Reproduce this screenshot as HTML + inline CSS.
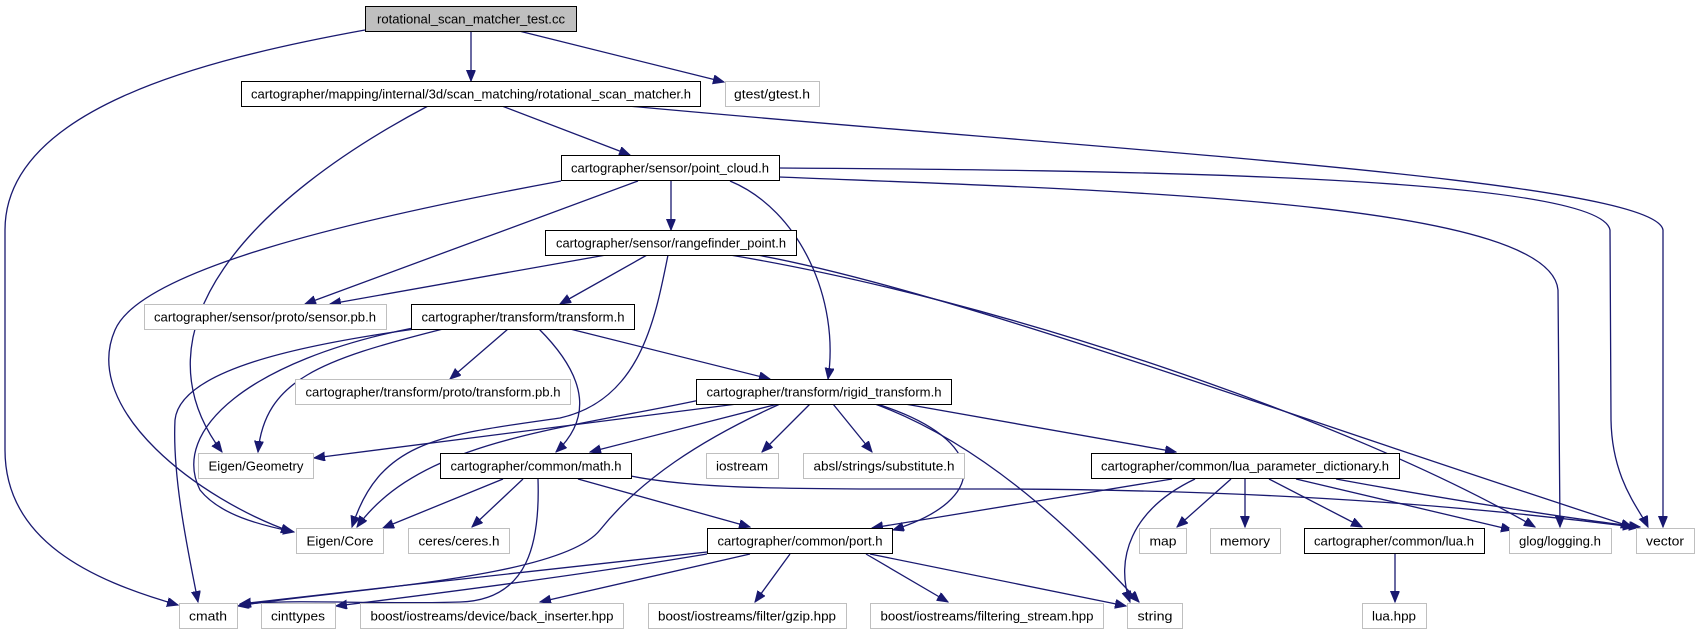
<!DOCTYPE html>
<html><head><meta charset="utf-8"><style>
html,body{margin:0;padding:0;background:#fff;}
svg{display:block;}
text{font-family:"Liberation Sans",sans-serif;font-size:13px;fill:#000;}
</style></head><body>
<svg width="1700" height="635" viewBox="0 0 1700 635" xmlns="http://www.w3.org/2000/svg">
<defs>
<marker id="a" markerUnits="userSpaceOnUse" markerWidth="12" markerHeight="10" refX="11" refY="4.5" orient="auto">
<path d="M0,0 L11,4.5 L0,9 z" fill="#191970" stroke="#191970"/>
</marker>
</defs>
<g fill="none" stroke="#191970" stroke-width="1.3" marker-end="url(#a)">
<path d="M365,30 C200,60 5,110 5,230 L5,450 C5,540 90,580 178,605"/>
<path d="M471,31 L471,81"/>
<path d="M519,31 L724,82"/>
<path d="M428,106 C250,200 130,330 222,452"/>
<path d="M502,106 L630,155"/>
<path d="M628,106 C1100,150 1655,180 1663,230 L1663,527"/>
<path d="M561,181 C350,220 140,270 115,330 C80,410 200,500 292,532"/>
<path d="M638,181 L305,304"/>
<path d="M671,181 L671,230"/>
<path d="M730,181 C800,210 840,300 828,379"/>
<path d="M779,168 C1100,170 1600,175 1610,230 L1611,420 C1612,480 1640,510 1648,527"/>
<path d="M779,177 C1100,190 1550,200 1558,290 L1560,527"/>
<path d="M606,255 L330,304"/>
<path d="M647,255 L560,304"/>
<path d="M668,255 C655,320 640,400 560,418 C440,435 380,440 352,527"/>
<path d="M730,255 C1000,300 1350,420 1535,527"/>
<path d="M757,255 C950,290 1300,420 1632,527"/>
<path d="M415,329 C300,345 180,370 175,420 C172,480 190,560 198,602"/>
<path d="M413,328 C250,360 170,430 200,490 C220,515 260,525 294,532"/>
<path d="M443,329 C320,360 265,380 258,452"/>
<path d="M508,329 L450,379"/>
<path d="M539,329 C590,380 590,420 556,452"/>
<path d="M570,329 L770,379"/>
<path d="M737,404 L314,458"/>
<path d="M700,400 C560,430 420,440 357,527"/>
<path d="M778,404 L590,452"/>
<path d="M780,404 C700,440 640,480 600,530 C560,580 330,590 238,606"/>
<path d="M810,404 L762,452"/>
<path d="M833,404 L872,452"/>
<path d="M877,404 C990,440 990,500 893,530"/>
<path d="M875,404 C1000,450 1100,560 1139,602"/>
<path d="M905,404 L1176,452"/>
<path d="M503,479 L383,528"/>
<path d="M523,479 L472,527"/>
<path d="M538,479 C540,540 530,600 460,602 C380,605 280,598 240,605"/>
<path d="M578,479 L750,527"/>
<path d="M631,476 C700,490 800,489 1000,489 C1300,490 1500,510 1634,527"/>
<path d="M707,552 C600,565 400,585 240,604"/>
<path d="M707,554 C600,572 450,592 336,606"/>
<path d="M750,554 L540,602"/>
<path d="M790,554 L755,602"/>
<path d="M866,554 L948,602"/>
<path d="M870,554 L1126,606"/>
<path d="M1172,479 L872,528"/>
<path d="M1195,479 C1130,510 1115,560 1130,602"/>
<path d="M1231,479 L1177,527"/>
<path d="M1245,479 L1245,527"/>
<path d="M1269,479 L1362,527"/>
<path d="M1296,479 L1512,530"/>
<path d="M1336,479 C1450,500 1580,520 1640,527"/>
<path d="M1395,554 L1395,602"/>
</g>
<g stroke-width="1">
<rect x="365.5" y="6.5" width="211" height="25" fill="#bfbfbf" stroke="#000"/>
<rect x="241.5" y="81.5" width="459" height="25" fill="#fff" stroke="#000"/>
<rect x="561.5" y="155.5" width="218" height="25" fill="#fff" stroke="#000"/>
<rect x="545.5" y="230.5" width="251" height="25" fill="#fff" stroke="#000"/>
<rect x="411.5" y="304.5" width="223" height="25" fill="#fff" stroke="#000"/>
<rect x="696.5" y="379.5" width="255" height="25" fill="#fff" stroke="#000"/>
<rect x="440.5" y="453.5" width="191" height="25" fill="#fff" stroke="#000"/>
<rect x="1091.5" y="453.5" width="308" height="25" fill="#fff" stroke="#000"/>
<rect x="707.5" y="528.5" width="185" height="25" fill="#fff" stroke="#000"/>
<rect x="1304.5" y="528.5" width="180" height="25" fill="#fff" stroke="#000"/>
</g>
<g fill="#fff" stroke="#bfbfbf" stroke-width="1">
<rect x="725.5" y="81.5" width="94" height="25"/>
<rect x="144.5" y="304.5" width="242" height="25"/>
<rect x="295.5" y="379.5" width="275" height="25"/>
<rect x="198.5" y="453.5" width="115" height="25"/>
<rect x="706.5" y="453.5" width="72" height="25"/>
<rect x="803.5" y="453.5" width="161" height="25"/>
<rect x="296.5" y="528.5" width="87" height="25"/>
<rect x="408.5" y="528.5" width="101" height="25"/>
<rect x="1139.5" y="528.5" width="47" height="25"/>
<rect x="1210.5" y="528.5" width="70" height="25"/>
<rect x="1509.5" y="528.5" width="102" height="25"/>
<rect x="1636.5" y="528.5" width="58" height="25"/>
<rect x="179.5" y="603.5" width="58" height="25"/>
<rect x="261.5" y="603.5" width="74" height="25"/>
<rect x="360.5" y="603.5" width="263" height="25"/>
<rect x="648.5" y="603.5" width="198" height="25"/>
<rect x="870.5" y="603.5" width="233" height="25"/>
<rect x="1127.5" y="603.5" width="55" height="25"/>
<rect x="1362.5" y="603.5" width="64" height="25"/>
</g>
<g text-anchor="middle">
<text x="471" y="23.5" textLength="188" lengthAdjust="spacingAndGlyphs">rotational_scan_matcher_test.cc</text>
<text x="471" y="98.5" textLength="440" lengthAdjust="spacingAndGlyphs">cartographer/mapping/internal/3d/scan_matching/rotational_scan_matcher.h</text>
<text x="772" y="98.5" textLength="76" lengthAdjust="spacingAndGlyphs">gtest/gtest.h</text>
<text x="670" y="172.5" textLength="198" lengthAdjust="spacingAndGlyphs">cartographer/sensor/point_cloud.h</text>
<text x="671" y="247.5" textLength="230" lengthAdjust="spacingAndGlyphs">cartographer/sensor/rangefinder_point.h</text>
<text x="265" y="321.5" textLength="222" lengthAdjust="spacingAndGlyphs">cartographer/sensor/proto/sensor.pb.h</text>
<text x="523" y="321.5" textLength="203" lengthAdjust="spacingAndGlyphs">cartographer/transform/transform.h</text>
<text x="433" y="396.5" textLength="255" lengthAdjust="spacingAndGlyphs">cartographer/transform/proto/transform.pb.h</text>
<text x="824" y="396.5" textLength="235" lengthAdjust="spacingAndGlyphs">cartographer/transform/rigid_transform.h</text>
<text x="256" y="470.5" textLength="95" lengthAdjust="spacingAndGlyphs">Eigen/Geometry</text>
<text x="536" y="470.5" textLength="171" lengthAdjust="spacingAndGlyphs">cartographer/common/math.h</text>
<text x="742" y="470.5" textLength="52" lengthAdjust="spacingAndGlyphs">iostream</text>
<text x="884" y="470.5" textLength="141" lengthAdjust="spacingAndGlyphs">absl/strings/substitute.h</text>
<text x="1245" y="470.5" textLength="288" lengthAdjust="spacingAndGlyphs">cartographer/common/lua_parameter_dictionary.h</text>
<text x="340" y="545.5" textLength="67" lengthAdjust="spacingAndGlyphs">Eigen/Core</text>
<text x="459" y="545.5" textLength="81" lengthAdjust="spacingAndGlyphs">ceres/ceres.h</text>
<text x="800" y="545.5" textLength="165" lengthAdjust="spacingAndGlyphs">cartographer/common/port.h</text>
<text x="1163" y="545.5" textLength="27" lengthAdjust="spacingAndGlyphs">map</text>
<text x="1245" y="545.5" textLength="50" lengthAdjust="spacingAndGlyphs">memory</text>
<text x="1394" y="545.5" textLength="160" lengthAdjust="spacingAndGlyphs">cartographer/common/lua.h</text>
<text x="1560" y="545.5" textLength="82" lengthAdjust="spacingAndGlyphs">glog/logging.h</text>
<text x="1665" y="545.5" textLength="38" lengthAdjust="spacingAndGlyphs">vector</text>
<text x="208" y="620.5" textLength="38" lengthAdjust="spacingAndGlyphs">cmath</text>
<text x="298" y="620.5" textLength="54" lengthAdjust="spacingAndGlyphs">cinttypes</text>
<text x="492" y="620.5" textLength="243" lengthAdjust="spacingAndGlyphs">boost/iostreams/device/back_inserter.hpp</text>
<text x="747" y="620.5" textLength="178" lengthAdjust="spacingAndGlyphs">boost/iostreams/filter/gzip.hpp</text>
<text x="987" y="620.5" textLength="213" lengthAdjust="spacingAndGlyphs">boost/iostreams/filtering_stream.hpp</text>
<text x="1155" y="620.5" textLength="35" lengthAdjust="spacingAndGlyphs">string</text>
<text x="1394" y="620.5" textLength="44" lengthAdjust="spacingAndGlyphs">lua.hpp</text>
</g>
</svg>
</body></html>
